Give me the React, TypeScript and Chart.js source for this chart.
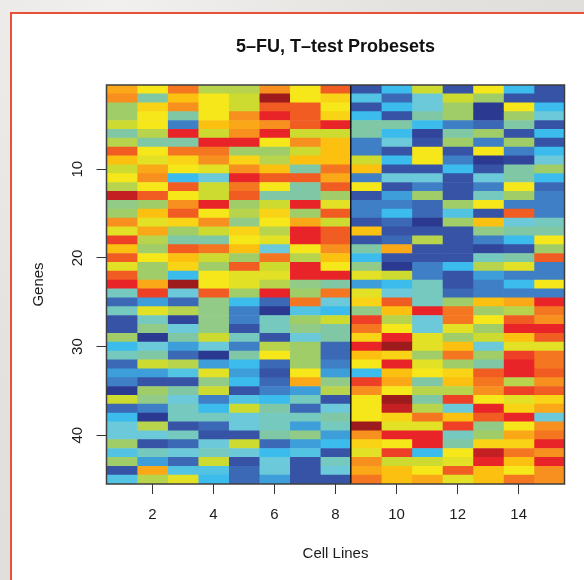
import React, { useEffect, useRef } from 'react';
import { Chart, registerables } from 'chart.js';

Chart.register(...registerables);

// ---- data ----
const cellLines = [1, 2, 3, 4, 5, 6, 7, 8, 9, 10, 11, 12, 13, 14, 15];
const genes = [
  1, 2, 3, 4, 5, 6, 7, 8, 9, 10, 11, 12, 13, 14, 15, 16, 17, 18, 19, 20, 21, 22, 23,
  24, 25, 26, 27, 28, 29, 30, 31, 32, 33, 34, 35, 36, 37, 38, 39, 40, 41, 42, 43, 44, 45,
];
const xTickValues = [2, 4, 6, 8, 10, 12, 14];
const yTickValues = [10, 20, 30, 40];
const groupBoundary = 8.5; // between cell line 8 and 9

// expression level per gene (row) and cell line (column), 0 = lowest (navy) .. 13 = highest (dark red)
const expression: number[][] = [
  [9.5, 8, 10.5, 6.5, 6.5, 10, 8, 11, 1, 3, 7, 1, 8, 3, 1],
  [10, 5, 9, 8, 7, 13, 8, 8.5, 3.5, 1.5, 4, 7, 6, 1, 1],
  [6, 8.5, 10, 8, 7, 11, 11, 8, 1, 3, 4, 6, 0, 8, 3],
  [6, 8, 5, 8, 10, 12, 11, 8.5, 3, 1, 5, 6, 0, 6, 4],
  [7, 8, 2, 9, 9.5, 10, 11, 12, 5, 5, 3, 2, 1.5, 5, 1],
  [5, 6.5, 12, 7, 10, 12, 7, 7, 5, 3, 0.5, 5, 6, 1, 3],
  [6.5, 5, 5, 12, 12, 8, 10, 9, 2, 4, 1, 6, 2, 6, 1],
  [11, 8, 10.5, 10.5, 6, 6, 7, 9, 2, 1, 8, 1, 8, 2, 3],
  [9, 7.5, 8.5, 10, 8.5, 6.5, 9, 9, 7, 3, 8, 2, 0, 0.5, 4],
  [7, 9.5, 8, 7.5, 10, 9, 5, 10.5, 9, 1, 1, 3, 1, 5, 6],
  [8, 10, 3, 4, 12, 11, 11, 9.5, 2, 4, 4, 1, 4, 5, 3],
  [6.5, 8, 11, 7, 10.5, 8, 5, 11, 8, 1, 2, 1, 2, 8, 1.5],
  [12.5, 11, 8, 7, 11, 5, 5, 6, 1, 2.5, 6, 1, 4.5, 6, 2],
  [5.5, 6, 10, 12, 6, 7, 12, 7.5, 2, 2, 1.5, 6, 8, 2, 2],
  [6, 9, 11, 8, 6.5, 8.5, 6, 11, 2, 3, 1.5, 3.5, 1, 11, 2],
  [10, 7.5, 8.5, 10, 5.5, 8, 9.5, 7, 1, 1.5, 0, 6, 9, 4, 4.5],
  [7.5, 9.5, 6, 7, 8.5, 6.5, 12, 11, 9, 1, 1, 1, 5.5, 5, 5],
  [11.5, 6.5, 5, 5, 8, 7.5, 12, 11, 1, 1.5, 6.5, 1, 2, 3, 8],
  [9, 6, 11, 10.5, 9, 4, 8, 10, 5, 9.5, 1, 1, 0.5, 1, 6],
  [11, 8, 9, 7, 6, 10.5, 6.5, 9, 3, 1, 1, 1, 4.5, 5, 11],
  [7.5, 6, 8.5, 6, 11, 7, 12, 8, 5.5, 0, 2, 3, 6.5, 7.5, 2],
  [11, 6, 3, 8, 7.5, 7.5, 12, 12, 7.5, 7, 2, 1, 2.5, 2, 2],
  [12, 9.5, 13, 8, 7.5, 6.5, 5.5, 5, 2.5, 3, 4.5, 1, 2, 3, 8],
  [4.5, 11.5, 4, 11, 6, 12, 6, 10.5, 7.5, 4, 4.5, 1.5, 2, 2, 2],
  [1.5, 2.5, 1.5, 5.5, 3, 1.5, 10.5, 4, 8.5, 11, 4.5, 6, 9, 9.5, 12],
  [4.5, 7.5, 6.5, 5.5, 2, 0, 3.5, 3, 5.5, 9, 12, 10.5, 6, 6.5, 10.5],
  [1, 4.5, 0.5, 5.5, 2, 4.5, 6, 7, 11.5, 6.5, 4, 10.5, 8, 11, 10],
  [1, 5.5, 4, 5.5, 1, 4.5, 5.5, 5, 10.5, 8, 4, 7.5, 6, 12, 12],
  [6, 0, 5, 7, 4.5, 1, 4, 5, 8.5, 12, 7.5, 6, 7, 9, 11],
  [3, 4, 2.5, 4, 2, 6.5, 6, 1.5, 12, 13, 7.5, 9, 4, 7.5, 7.5],
  [4.5, 5, 1.5, 0, 5, 8, 6, 1.5, 9, 8.5, 6, 10.5, 6, 11.5, 10.5],
  [1.5, 7, 6.5, 2.5, 3, 1.5, 6, 2, 8, 12, 7.5, 6, 5, 12, 10.5],
  [2.5, 2.5, 3.5, 7.5, 2.5, 1, 8, 2.5, 3, 9, 8, 8.5, 11, 12, 11],
  [2, 1, 1, 5.5, 3, 1.5, 9.5, 5.5, 11.5, 9.5, 5, 9, 10.5, 6.5, 10],
  [0, 6, 5, 7, 1, 2, 2.5, 6.5, 10, 8, 6.5, 6.5, 10, 11.5, 11],
  [7, 5.5, 4, 2, 3.5, 3, 4.5, 1, 8, 13, 5, 11.5, 8, 7.5, 8.5],
  [1.5, 2, 4.5, 3, 7, 5, 1.5, 4, 8, 12.5, 6.5, 4, 12, 8.5, 9.5],
  [3, 0, 4.5, 4.5, 4, 4.5, 4.5, 5, 8, 8.5, 10.5, 9, 11, 12, 4],
  [4, 6.5, 1, 1.5, 4, 4.5, 2.5, 4.5, 13, 7.5, 7.5, 11.5, 5.5, 8, 10],
  [4, 4, 4.5, 1, 1, 5, 5.5, 2.5, 10, 12, 12, 4.5, 6, 9.5, 10.5],
  [6, 1, 1.5, 4, 7, 1.5, 2.5, 3, 8.5, 8, 12, 5, 8.5, 8.5, 12],
  [3.5, 4.5, 4, 4.5, 4, 3, 3.5, 1, 7.5, 11.5, 3, 8, 12.5, 10.5, 10],
  [6, 2.5, 1.5, 7, 1, 4, 1, 4.5, 10, 7, 7, 7.5, 12, 9, 12],
  [1, 9.5, 3.5, 3.5, 1.5, 4, 1, 4, 9.5, 9, 8, 11, 9, 8, 10],
  [3.5, 6.5, 7.5, 3, 1.5, 2.5, 1, 1, 10.5, 9, 9.5, 7.5, 9, 10.5, 10],
];

// colour ramp: level 0 .. 13
const paletteStops = [
  '#2b3990', '#3753a5', '#3f7fc5', '#3bbcec', '#6bc9d9', '#80c8a5', '#a1cd69',
  '#cdda2f', '#f6e71b', '#fcc011', '#f7901e', '#f15c23', '#e92428', '#9e1b1d',
];

function hexToRgb(h: string) {
  const n = parseInt(h.slice(1), 16);
  return [(n >> 16) & 255, (n >> 8) & 255, n & 255];
}

function levelColor(v: number): string {
  const max = paletteStops.length - 1;
  const c = Math.max(0, Math.min(max, v));
  const i = Math.min(max - 1, Math.floor(c));
  const t = c - i;
  const a = hexToRgb(paletteStops[i]);
  const b = hexToRgb(paletteStops[i + 1]);
  const m = a.map((x, k) => Math.round(x + (b[k] - x) * t));
  return `rgb(${m[0]},${m[1]},${m[2]})`;
}

const FONT = '"Liberation Sans", Arial, Helvetica, sans-serif';
const TEXT = '#1c1c1c';

const framePlugin = {
  id: 'frame',
  afterDatasetsDraw(chart: any) {
    const { ctx, chartArea: a, scales } = chart;
    ctx.save();
    const xs = scales.x.getPixelForValue(groupBoundary);
    ctx.strokeStyle = '#151515';
    ctx.lineWidth = 1.5;
    ctx.beginPath();
    ctx.moveTo(xs, a.top);
    ctx.lineTo(xs, a.bottom);
    ctx.stroke();
    ctx.strokeStyle = '#3e3e3e';
    ctx.lineWidth = 1.5;
    ctx.strokeRect(a.left, a.top, a.right - a.left, a.bottom - a.top);
    ctx.restore();
  },
};

export default function App() {
  const canvasRef = useRef<HTMLCanvasElement | null>(null);

  useEffect(() => {
    document.body.style.margin = '0';
    const canvas = canvasRef.current;
    if (!canvas) return;

    const datasets = cellLines.map((c, ci) => ({
      label: `Cell line ${c}`,
      data: genes.map((g) => ({ x: [c - 0.5, c + 0.5], y: g })),
      backgroundColor: genes.map((_, gi) => levelColor(expression[gi][ci])),
      borderWidth: 0,
      grouped: false,
      barPercentage: 1,
      categoryPercentage: 1,
    }));

    const chart = new Chart(canvas, {
      type: 'bar',
      data: { datasets } as any,
      plugins: [framePlugin],
      options: {
        indexAxis: 'y',
        animation: false,
        responsive: false,
        maintainAspectRatio: false,
        layout: { padding: { left: 20, right: 19.5, top: 0, bottom: 0 } },
        plugins: {
          legend: { display: false },
          tooltip: { enabled: false },
          title: {
            display: true,
            text: '5–FU, T–test Probesets',
            fullSize: false,
            color: '#111',
            font: { family: FONT, size: 18, weight: 'bold' },
            padding: { top: 36.2, bottom: 27.2 },
          },
        },
        scales: {
          x: {
            type: 'linear',
            min: 0.5,
            max: 15.5,
            offset: false,
            afterBuildTicks: (axis: any) => {
              axis.ticks = xTickValues.map((v) => ({ value: v }));
            },
            afterFit: (s: any) => {
              s.height = 96;
            },
            grid: { offset: false, drawOnChartArea: false, drawTicks: true, tickLength: 10, tickColor: '#333', tickWidth: 1 },
            border: { display: false },
            ticks: { color: TEXT, font: { family: FONT, size: 15 }, padding: 12, maxRotation: 0, autoSkip: false },
            title: {
              display: true,
              text: 'Cell Lines',
              color: TEXT,
              font: { family: FONT, size: 15 },
              padding: { top: 0, bottom: 17 },
            },
          },
          y: {
            type: 'linear',
            reverse: true,
            min: 0.5,
            max: 45.5,
            offset: false,
            afterBuildTicks: (axis: any) => {
              axis.ticks = yTickValues.map((v) => ({ value: v }));
            },
            afterFit: (s: any) => {
              s.width = 86.5;
            },
            grid: { offset: false, drawOnChartArea: false, drawTicks: true, tickLength: 10, tickColor: '#333', tickWidth: 1 },
            border: { display: false },
            ticks: {
              color: TEXT,
              font: { family: FONT, size: 15 },
              padding: 10,
              minRotation: 90,
              maxRotation: 90,
              crossAlign: 'center',
              autoSkip: false,
            },
            title: {
              display: true,
              text: 'Genes',
              color: TEXT,
              font: { family: FONT, size: 15 },
              padding: { top: 10, bottom: 0 },
            },
          },
        },
      } as any,
    });

    return () => chart.destroy();
  }, []);

  return (
    <div
      style={{
        position: 'relative',
        width: 584,
        height: 580,
        overflow: 'hidden',
        background:
          'radial-gradient(ellipse at 20% 0%, #f1f0ee 0%, #e4e2df 45%, #dddbd8 100%)',
      }}
    >
      <div
        style={{
          position: 'absolute',
          left: 10,
          top: 12,
          width: 600,
          height: 600,
          background: '#ffffff',
          borderLeft: '2px solid #e9503a',
          borderTop: '2px solid #e9503a',
          boxSizing: 'border-box',
        }}
      />
      <canvas
        ref={canvasRef}
        width={584}
        height={580}
        style={{ position: 'absolute', left: 0, top: 0, width: 584, height: 580 }}
      />
    </div>
  );
}
